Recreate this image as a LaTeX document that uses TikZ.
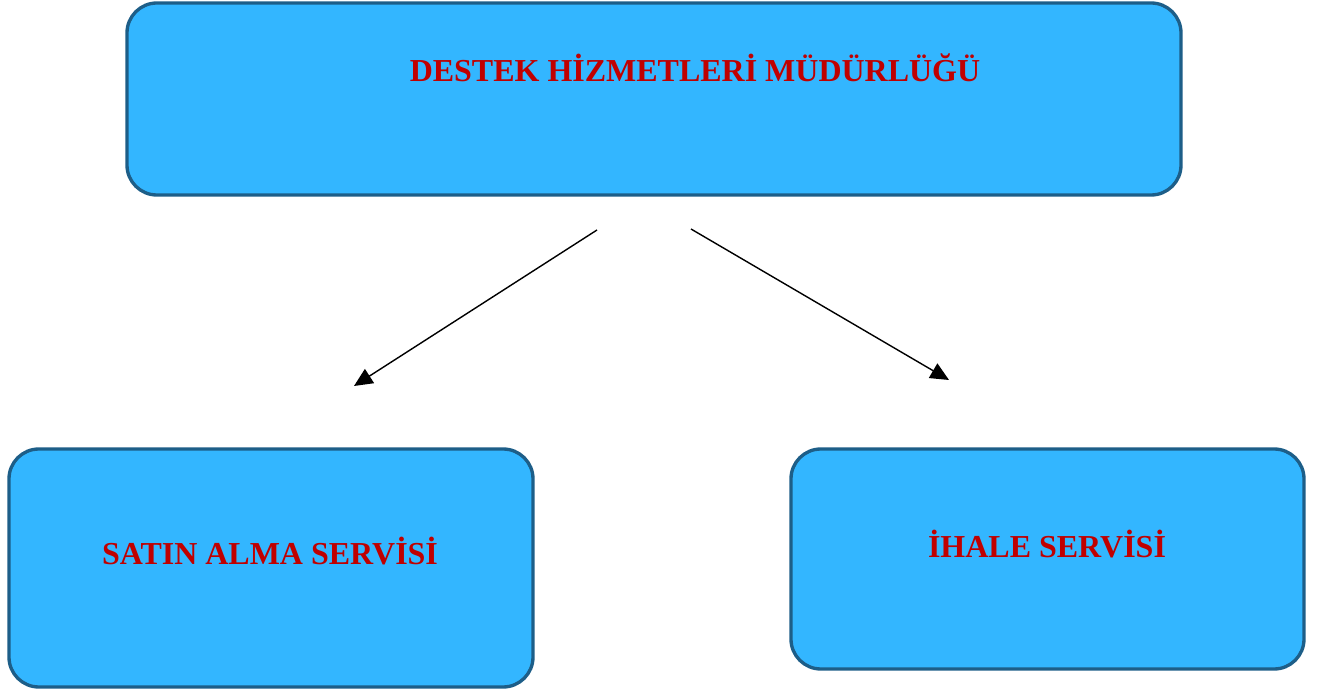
\documentclass[tikz,border=0pt]{standalone}
\usepackage{fontspec}
\setmainfont{Liberation Serif}
\usetikzlibrary{arrows.meta}
\definecolor{boxfill}{HTML}{33B6FF}
\definecolor{boxline}{HTML}{1D5E88}
\definecolor{titlered}{HTML}{C00000}

\begin{document}
\begin{tikzpicture}[
    unit/.style={draw=boxline,line width=1.9pt,fill=boxfill,rounded corners=17pt,inner sep=0pt},
    title/.style={text=titlered,font=\fontsize{18.2}{22}\selectfont\bfseries,inner sep=0pt},
    link/.style={line width=0.8pt,-{Triangle[length=10.5pt,width=9.5pt]}}]

\useasboundingbox (0,0) rectangle (26.34,13.82);

\node[unit,minimum width=21.08cm,minimum height=3.84cm] (top) at (13.08,11.84) {};
\node[unit,minimum width=10.48cm,minimum height=4.76cm] (left) at (5.42,2.46) {};
\node[unit,minimum width=10.26cm,minimum height=4.4cm] (right) at (20.95,2.64) {};

\node[title] (toptext) at (13.9,12.46) {DESTEK HİZMETLERİ MÜDÜRLÜĞÜ};
\node[title] (lefttext) at (5.4,2.8) {SATIN ALMA SERVİSİ};
\node[title] (righttext) at (20.94,2.94) {İHALE SERVİSİ};

\coordinate (a1) at (11.94,9.22);
\coordinate (a2) at (7.08,6.1);
\coordinate (b1) at (13.82,9.24);
\coordinate (b2) at (18.98,6.22);

\draw[link] (a1) -- (a2);
\draw[link] (b1) -- (b2);
\end{tikzpicture}
\end{document}
